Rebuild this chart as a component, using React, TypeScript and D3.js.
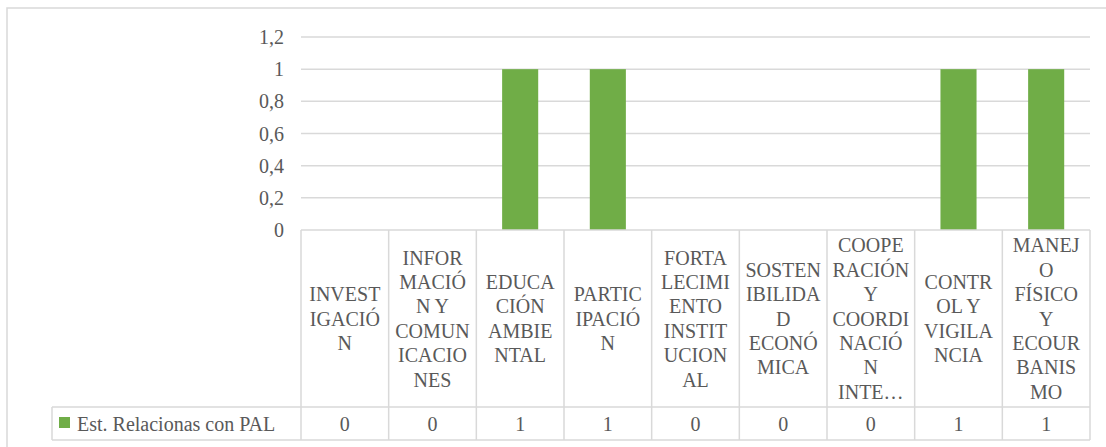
import { useMemo } from 'react';
import * as d3 from 'd3';

// categories, already wrapped the way the source chart breaks them
const categories = [
  'INVESTIGACIÓN',
  'INFORMACIÓN Y COMUNICACIONES',
  'EDUCACIÓN AMBIENTAL',
  'PARTICIPACIÓN',
  'FORTALECIMIENTO INSTITUCIONAL',
  'SOSTENIBILIDAD ECONÓMICA',
  'COOPERACIÓN Y COORDINACIÓN INTE…',
  'CONTROL Y VIGILANCIA',
  'MANEJO FÍSICO Y ECOURBANISMO',
];
const categoryLines = [
  ['INVEST', 'IGACIÓ', 'N'],
  ['INFOR', 'MACIÓ', 'N Y', 'COMUN', 'ICACIO', 'NES'],
  ['EDUCA', 'CIÓN', 'AMBIE', 'NTAL'],
  ['PARTIC', 'IPACIÓ', 'N'],
  ['FORTA', 'LECIMI', 'ENTO', 'INSTIT', 'UCION', 'AL'],
  ['SOSTEN', 'IBILIDA', 'D', 'ECONÓ', 'MICA'],
  ['COOPE', 'RACIÓN', 'Y', 'COORDI', 'NACIÓ', 'N', 'INTE…'],
  ['CONTR', 'OL Y', 'VIGILA', 'NCIA'],
  ['MANEJ', 'O', 'FÍSICO', 'Y', 'ECOUR', 'BANIS', 'MO'],
];
const seriesName = 'Est. Relacionas con PAL';
const seriesValues = [0, 0, 1, 1, 0, 0, 0, 1, 1];
const yTicks = [0, 0.2, 0.4, 0.6, 0.8, 1, 1.2];

const W = 1106;
const H = 447;
const plotLeft = 301;
const plotRight = 1090;
const plotTop = 37;
const plotBottom = 230;
const headerBottom = 407;
const tableBottom = 440;
const legendLeft = 52;
const lineH = 24.4;

const grid = '#d9d9d9';
const textCol = '#595959';
const green = '#70ad47';
const serif = "'Liberation Serif'";

const es = d3.formatLocale({ decimal: ',', thousands: '.', grouping: [3], currency: ['', '€'] });
const fmt = es.format('~g');

function Label(props: { x: number; y: number; anchor?: string; children: string }) {
  return (
    <text
      x={props.x}
      y={props.y}
      dy="0.35em"
      textAnchor={props.anchor ?? 'middle'}
      fontFamily={serif}
      fontSize={20}
      fill={textCol}
      style={{ fontFamily: serif }}
    >
      {props.children}
    </text>
  );
}

export default function App() {
  const x = useMemo(
    () => d3.scaleBand<string>().domain(categories).range([plotLeft, plotRight]).padding(0),
    []
  );
  const y = useMemo(
    () => d3.scaleLinear().domain([0, 1.2]).range([plotBottom, plotTop]),
    []
  );
  // gap width 143% like the Excel default
  const barW = x.bandwidth() / 2.43;
  const headerMid = (plotBottom + headerBottom) / 2;
  const valueMid = (headerBottom + tableBottom) / 2;

  return (
    <svg width={W} height={H} style={{ position: 'absolute', left: 0, top: 0, background: '#fff' }}>
      <style>{`text { font-family: 'Liberation Serif', serif !important; }`}</style>
      {/* outer chart frame, cut off at right and bottom */}
      <rect x={7} y={8} width={W + 20} height={H + 20} fill="none" stroke={grid} strokeWidth={1.5} />

      {/* gridlines + y labels */}
      {yTicks.map(t => (
        <g key={t}>
          {t > 0 && (
            <line x1={plotLeft} x2={plotRight} y1={y(t)} y2={y(t)} stroke={grid} strokeWidth={1.5} />
          )}
          <Label x={284} y={y(t)} anchor="end">{fmt(t)}</Label>
        </g>
      ))}

      {/* bars */}
      {seriesValues.map((v, i) => (
        <rect
          key={i}
          x={(x(categories[i]) ?? 0) + (x.bandwidth() - barW) / 2}
          y={y(v)}
          width={barW}
          height={y(0) - y(v)}
          fill={green}
        />
      ))}

      {/* data table */}
      <g stroke={grid} strokeWidth={1.5} fill="none">
        <line x1={plotLeft} x2={plotRight} y1={plotBottom} y2={plotBottom} />
        <line x1={legendLeft} x2={plotRight} y1={headerBottom} y2={headerBottom} />
        <line x1={legendLeft} x2={plotRight} y1={tableBottom} y2={tableBottom} />
        <line x1={legendLeft} x2={legendLeft} y1={headerBottom} y2={tableBottom} />
        {categories.map(c => (
          <line key={c} x1={x(c)} x2={x(c)} y1={plotBottom} y2={tableBottom} />
        ))}
        <line x1={plotRight} x2={plotRight} y1={plotBottom} y2={tableBottom} />
      </g>

      {categories.map((c, i) => {
        const cx = (x(c) ?? 0) + x.bandwidth() / 2;
        const lines = categoryLines[i];
        const y0 = headerMid - ((lines.length - 1) * lineH) / 2;
        return (
          <g key={c}>
            {lines.map((l, j) => (
              <Label key={j} x={cx} y={y0 + j * lineH}>{l}</Label>
            ))}
            <Label x={cx} y={valueMid}>{fmt(seriesValues[i])}</Label>
          </g>
        );
      })}

      {/* legend key in table */}
      <rect x={59} y={417} width={11} height={11} fill={green} />
      <Label x={77} y={valueMid} anchor="start">{seriesName}</Label>
    </svg>
  );
}
